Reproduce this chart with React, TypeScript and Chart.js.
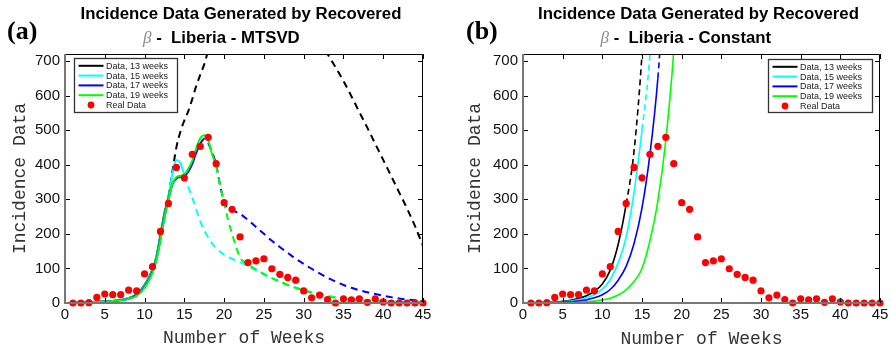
import React, { useEffect, useRef } from "react";
import { Chart, registerables } from "chart.js";
Chart.register(...registerables);

const SANS = "'Liberation Sans', Arial, sans-serif";
const MONO = "'Liberation Mono', 'Courier New', monospace";
const SERIF = "'Liberation Serif', 'Times New Roman', serif";

// ---------- data ----------
const xTicks = [0, 5, 10, 15, 20, 25, 30, 35, 40, 45];
const yTicks = [0, 100, 200, 300, 400, 500, 600, 700];

const seriesLabels = ["Data, 13 weeks", "Data, 15 weeks", "Data, 17 weeks", "Data, 19 weeks"];
const realLabel = "Real Data";
const cutoffs = [13, 15, 17, 19];
const lineColors = ["#000000", "#00ffff", "#0000ff", "#00ff00"];

const realWeeks = [1, 2, 3, 4, 5, 6, 7, 8, 9, 10, 11, 12, 13, 14, 15, 16, 17, 18, 19, 20, 21, 22, 23, 24, 25, 26, 27, 28, 29, 30, 31, 32, 33, 34, 35, 36, 37, 38, 39, 40, 41, 42, 43, 44, 45];
const realData = [0, 0, 1, 16, 26, 24, 24, 37, 35, 84, 105, 207, 288, 392, 362, 430, 453, 479, 403, 290, 271, 191, 117, 122, 128, 99, 83, 74, 66, 35, 15, 23, 10, 0, 12, 9, 12, 2, 12, 3, 0, 0, 0, 0, 0];

// (a) MTSVD
const leftWeeks = [1, 2, 3, 4, 5, 6, 7, 8, 9, 10, 11, 11.5, 12, 12.5, 13, 13.5, 14, 14.5, 15, 15.5, 16, 16.5, 17, 17.5, 18, 18.5, 19, 19.5, 20, 20.5, 21, 22, 23, 24, 25, 26, 27, 28, 29, 30, 31, 32, 33, 34, 35, 36, 37, 38, 39, 40, 41, 42, 43, 44, 45];
const leftBlack = [1, 1, 2, 3, 4, 6, 9, 14, 25, 52, 97, 135, 198, 260, 307, 380, 450, 495, 528, 555, 590, 628, 660, 690, 730, 765, 800, 832, 862, 890, 915, 960, 990, 1005, 1005, 995, 970, 935, 895, 855, 812, 767, 720, 682, 642, 598, 552, 507, 460, 414, 367, 320, 273, 222, 165];
const leftCyan = [1, 1, 2, 3, 4, 6, 9, 14, 24, 50, 95, 135, 193, 255, 305, 375, 413, 405, 370, 335, 305, 270, 236, 210, 190, 172, 158, 148, 140, 133, 128, 118, 107, 95, 82, 72, 62, 53, 44, 37, 31, 26, 21, 17, 14, 12, 10, 8, 7, 6, 5, 4, 3.5, 3, 2.5];
const leftBlue = [1, 1, 2, 3, 4, 6, 8, 12, 22, 46, 90, 128, 186, 248, 300, 343, 360, 364, 367, 380, 402, 435, 460, 474, 462, 435, 400, 340, 292, 275, 268, 258, 240, 220, 200, 180, 162, 145, 128, 113, 99, 86, 73, 62, 52, 44, 37, 31, 26, 21, 17, 13, 10, 8, 6];
const leftGreen = [1, 1, 2, 3, 4, 6, 8, 12, 21, 44, 87, 125, 183, 246, 298, 345, 364, 368, 372, 388, 412, 448, 476, 485, 470, 430, 395, 340, 290, 240, 200, 132, 112, 97, 84, 72, 62, 52, 44, 37, 30, 24, 19, 15, 12, 10, 8, 6, 5, 4, 3, 2, 2, 1, 1];

// (b) Constant
const rightWeeks = [1, 2, 3, 4, 5, 6, 7, 8, 9, 10, 11, 12, 13, 14, 15, 16, 17, 18, 19, 20];
const rightBlack = [0.8, 1.2, 2, 3, 5, 8, 13, 21, 34, 55, 95, 170, 285, 440, 720, 1150];
const rightCyan = [0.5, 0.8, 1.3, 2, 3.4, 5.5, 9, 15, 24, 40, 68, 116, 190, 320, 500, 720, 1150];
const rightBlue = [0.3, 0.5, 0.8, 1.3, 2, 3.4, 5.5, 9, 15, 24, 39, 66, 106, 172, 275, 430, 650, 1000];
const rightGreen = [0.1, 0.2, 0.3, 0.5, 0.8, 1.3, 2.1, 3.4, 5.5, 9, 14, 23, 38, 62, 100, 180, 295, 470, 730, 1150];

const titleLine1 = "Incidence Data Generated by Recovered";
const betaSymbol = "\u03B2";
const yTitle = "Incidence Data";
const xTitle = "Number of Weeks";

type Panel = {
  letter: string;
  method: string;
  weeks: number[];
  series: number[][];
  yAxisWidth: number;
  padRight: number;
  yTitlePad: number;
  xTitlePad: number;
  legend: { x: number; y: number; w: number; h: number };
  lineWidth: number;
  dash: number[];
  letterX: number;
};

const leftPanel: Panel = {
  letter: "(a)",
  method: "MTSVD",
  weeks: leftWeeks,
  series: [leftBlack, leftCyan, leftBlue, leftGreen],
  yAxisWidth: 65,
  padRight: 23,
  yTitlePad: 9,
  xTitlePad: 1,
  legend: { x: 74, y: 58, w: 103, h: 54 },
  lineWidth: 2,
  dash: [7, 5],
  letterX: 7,
};

const rightPanel: Panel = {
  letter: "(b)",
  method: "Constant",
  weeks: rightWeeks,
  series: [rightBlack, rightCyan, rightBlue, rightGreen],
  yAxisWidth: 77,
  padRight: 12,
  yTitlePad: 18,
  xTitlePad: 0,
  legend: { x: 322, y: 59, w: 104, h: 53 },
  lineWidth: 1.6,
  dash: [6, 4],
  letterX: 20,
};

function makeChart(canvas: HTMLCanvasElement, p: Panel) {
  const datasets: any[] = [];
  datasets.push({
    label: realLabel,
    data: realWeeks.map((w, i) => ({ x: w, y: realData[i] })),
    showLine: false,
    pointRadius: 3.6,
    pointBackgroundColor: "#ff0000",
    pointBorderColor: "#ff0000",
    pointBorderWidth: 0,
    clip: false,
    order: 0,
  });
  p.series.forEach((vals, k) => {
    datasets.push({
      label: seriesLabels[k],
      data: vals.map((v, i) => ({ x: p.weeks[i], y: v })),
      borderColor: lineColors[k],
      backgroundColor: lineColors[k],
      borderWidth: p.lineWidth,
      pointRadius: 0,
      fill: false,
      cubicInterpolationMode: "monotone",
      segment: {
        borderDash: (ctx: any) => (ctx.p0.parsed.x >= cutoffs[k] - 1e-9 ? p.dash : undefined),
      },
      clip: { left: 0, top: 0, right: 0, bottom: 2 },
      order: 4 - k,
    });
  });

  const decorPlugin = {
    id: "decor",
    afterDatasetsDraw(chart: any) {
      const { ctx, chartArea, scales } = chart;
      const { left, right, top, bottom } = chartArea;
      const xs = scales.x;
      const ys = scales.y;
      ctx.save();
      ctx.strokeStyle = "#000";
      ctx.lineWidth = 1;
      ctx.beginPath();
      ctx.moveTo(left, top + 0.5);
      ctx.lineTo(right - 0.5, top + 0.5);
      ctx.lineTo(right - 0.5, bottom);
      ctx.stroke();
      ctx.beginPath();
      xTicks.forEach((v) => {
        const px = Math.round(xs.getPixelForValue(v)) + 0.5;
        ctx.moveTo(px, bottom);
        ctx.lineTo(px, bottom - 5);
        ctx.moveTo(px, top);
        ctx.lineTo(px, top + 5);
      });
      yTicks.forEach((v) => {
        const py = Math.round(ys.getPixelForValue(v)) + 0.5;
        ctx.moveTo(left, py);
        ctx.lineTo(left + 5, py);
        ctx.moveTo(right, py);
        ctx.lineTo(right - 5, py);
      });
      ctx.stroke();
      ctx.strokeStyle = "#777";
      ctx.lineWidth = 2;
      ctx.beginPath();
      ctx.moveTo(left, top);
      ctx.lineTo(left, bottom);
      ctx.lineTo(right, bottom);
      ctx.stroke();
      ctx.restore();
    },
    afterDraw(chart: any) {
      const { ctx, chartArea } = chart;
      ctx.save();
      const L = p.legend;
      ctx.fillStyle = "#fff";
      ctx.fillRect(L.x, L.y, L.w, L.h);
      ctx.strokeStyle = "#333";
      ctx.lineWidth = 1.3;
      ctx.strokeRect(L.x + 0.5, L.y + 0.5, L.w, L.h);
      ctx.font = `9px ${SANS}`;
      ctx.textBaseline = "middle";
      ctx.textAlign = "left";
      const labels = [...seriesLabels, realLabel];
      labels.forEach((lab, i) => {
        const cy = L.y + 7.8 + i * 9.8;
        if (i < 4) {
          ctx.strokeStyle = lineColors[i];
          ctx.lineWidth = 2;
          ctx.beginPath();
          ctx.moveTo(L.x + 4.5, cy);
          ctx.lineTo(L.x + 29.5, cy);
          ctx.stroke();
        } else {
          ctx.fillStyle = "#ff0000";
          ctx.beginPath();
          ctx.arc(L.x + 17, cy, 3.4, 0, Math.PI * 2);
          ctx.fill();
        }
        ctx.fillStyle = "#222";
        ctx.fillText(lab, L.x + 32, cy + 0.5);
      });
      const cx = (chartArea.left + chartArea.right) / 2;
      ctx.textBaseline = "alphabetic";
      ctx.fillStyle = "#000";
      ctx.textAlign = "center";
      ctx.font = `bold 16.8px ${SANS}`;
      ctx.fillText(titleLine1, cx - 3, 19.3);
      ctx.textAlign = "left";
      let x = cx - 101;
      ctx.font = `italic 17px ${SERIF}`;
      ctx.fillStyle = "#8a8a8a";
      ctx.fillText(betaSymbol, x, 43.3);
      x += ctx.measureText(betaSymbol).width;
      ctx.font = `bold 16.8px ${SANS}`;
      ctx.fillStyle = "#000";
      ctx.fillText(" -  Liberia - " + p.method, x, 43.3);
      ctx.font = `bold 26px ${SERIF}`;
      ctx.fillText(p.letter, p.letterX, 38.5);
      ctx.restore();
    },
  };

  return new Chart(canvas, {
    type: "line",
    data: { datasets },
    options: {
      responsive: false,
      devicePixelRatio: 1,
      animation: false,
      events: [],
      layout: { padding: { top: 54, left: 0, right: p.padRight, bottom: 0 } },
      plugins: {
        legend: { display: false },
        tooltip: { enabled: false },
        title: { display: false },
      },
      scales: {
        x: {
          type: "linear",
          min: 0,
          max: 45,
          afterBuildTicks: (s: any) => {
            s.ticks = xTicks.map((v) => ({ value: v }));
          },
          afterFit: (s: any) => {
            s.height = 47;
          },
          grid: { display: false, drawTicks: false },
          border: { display: false },
          ticks: {
            font: { family: SANS, size: 15 },
            color: "#111",
            padding: 3,
            maxRotation: 0,
            autoSkip: false,
          },
          title: {
            display: true,
            text: xTitle,
            font: { family: MONO, size: 18 },
            color: "#333",
            padding: { top: 0, bottom: p.xTitlePad },
          },
        },
        y: {
          type: "linear",
          min: 0,
          max: 720,
          afterBuildTicks: (s: any) => {
            s.ticks = yTicks.map((v) => ({ value: v }));
          },
          afterFit: (s: any) => {
            s.width = p.yAxisWidth;
          },
          grid: { display: false, drawTicks: false },
          border: { display: false },
          ticks: {
            font: { family: SANS, size: 15 },
            color: "#111",
            padding: 5,
            autoSkip: false,
          },
          title: {
            display: true,
            text: yTitle,
            font: { family: MONO, size: 18 },
            color: "#333",
            padding: { top: p.yTitlePad, bottom: 0 },
          },
        },
      },
    } as any,
    plugins: [decorPlugin],
  });
}

export default function App() {
  const leftRef = useRef<HTMLCanvasElement>(null);
  const rightRef = useRef<HTMLCanvasElement>(null);
  useEffect(() => {
    const a = makeChart(leftRef.current as HTMLCanvasElement, leftPanel);
    const b = makeChart(rightRef.current as HTMLCanvasElement, rightPanel);
    return () => {
      a.destroy();
      b.destroy();
    };
  }, []);
  return (
    <div style={{ position: "absolute", left: 0, top: 0, width: 892, height: 350, background: "#fff" }}>
      <canvas
        ref={leftRef}
        width={446}
        height={350}
        style={{ position: "absolute", left: 0, top: 0, width: 446, height: 350 }}
      />
      <canvas
        ref={rightRef}
        width={446}
        height={350}
        style={{ position: "absolute", left: 446, top: 0, width: 446, height: 350 }}
      />
    </div>
  );
}
